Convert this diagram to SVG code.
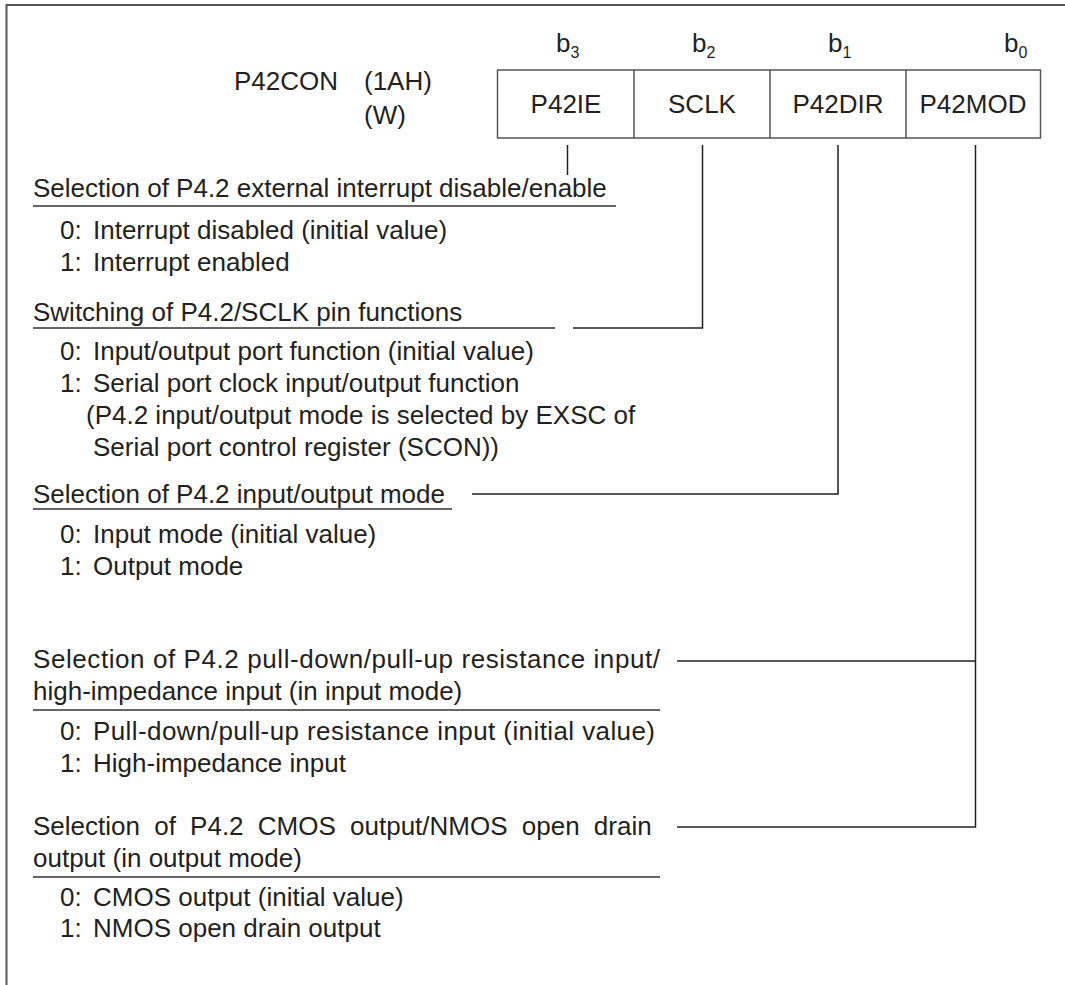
<svg xmlns="http://www.w3.org/2000/svg" width="1065" height="985" viewBox="0 0 1065 985">
<style>
text{font-family:"Liberation Sans",Arial,Helvetica,sans-serif;font-size:26px;fill:#231f20}
.sub{font-size:16px}
.frame{fill:none;stroke:#555;stroke-width:2}
.cell{fill:none;stroke:#555;stroke-width:1.5}
.ul{stroke:#666;stroke-width:2}
.conn{fill:none;stroke:#231f20;stroke-width:1.5}
.c{text-anchor:middle}
</style>
<rect width="1065" height="985" fill="#fff"/>
<path class="frame" d="M1065 5 H6.5 V985"/>

<g id="register">
  <text x="234" y="90">P42CON</text>
  <text x="364" y="90">(1AH)</text>
  <text x="364" y="124">(W)</text>
  <text x="556" y="52">b<tspan class="sub" dy="6">3</tspan></text>
  <text x="692" y="52">b<tspan class="sub" dy="6">2</tspan></text>
  <text x="828" y="52">b<tspan class="sub" dy="6">1</tspan></text>
  <text x="1004" y="52">b<tspan class="sub" dy="6">0</tspan></text>
  <rect class="cell" x="497.5" y="70" width="543" height="68"/>
  <path class="cell" d="M634 70V138M770 70V138M906 70V138"/>
  <text class="c" x="566" y="113">P42IE</text>
  <text class="c" x="702" y="113">SCLK</text>
  <text class="c" x="838" y="113">P42DIR</text>
  <text class="c" x="973" y="113">P42MOD</text>
</g>

<g id="connectors">
  <path class="conn" d="M567.5 145V175"/>
  <path class="conn" d="M702.5 145V328H573"/>
  <path class="conn" d="M838 145V494H472"/>
  <path class="conn" d="M975.5 145V827H677M975.5 661H677"/>
</g>

<g id="p42ie">
  <text x="33" y="197">Selection of P4.2 external interrupt disable/enable</text>
  <line class="ul" x1="33" y1="206" x2="616" y2="206"/>
  <text x="60" y="239">0:<tspan x="93">Interrupt disabled (initial value)</tspan></text>
  <text x="60" y="271">1:<tspan x="93">Interrupt enabled</tspan></text>
</g>

<g id="sclk">
  <text x="33" y="321">Switching of P4.2/SCLK pin functions</text>
  <line class="ul" x1="33" y1="328" x2="555" y2="328"/>
  <text x="60" y="360">0:<tspan x="93">Input/output port function (initial value)</tspan></text>
  <text x="60" y="392">1:<tspan x="93">Serial port clock input/output function</tspan></text>
  <text x="86" y="424">(P4.2 input/output mode is selected by EXSC of</text>
  <text x="93" y="456">Serial port control register (SCON))</text>
</g>

<g id="p42dir">
  <text x="33" y="503">Selection of P4.2 input/output mode</text>
  <line class="ul" x1="33" y1="509" x2="452" y2="509"/>
  <text x="60" y="543">0:<tspan x="93">Input mode (initial value)</tspan></text>
  <text x="60" y="575">1:<tspan x="93">Output mode</tspan></text>
</g>

<g id="p42mod-input">
  <text x="33" y="668" textLength="627" lengthAdjust="spacing">Selection of P4.2 pull-down/pull-up resistance input/</text>
  <text x="33" y="700">high-impedance input (in input mode)</text>
  <line class="ul" x1="33" y1="710" x2="660" y2="710"/>
  <text x="60" y="740">0:<tspan x="93" textLength="562" lengthAdjust="spacing">Pull-down/pull-up resistance input (initial value)</tspan></text>
  <text x="60" y="772">1:<tspan x="93">High-impedance input</tspan></text>
</g>

<g id="p42mod-output">
  <text x="33" y="835" word-spacing="7">Selection of P4.2 CMOS output/NMOS open drain</text>
  <text x="33" y="867">output (in output mode)</text>
  <line class="ul" x1="33" y1="877" x2="660" y2="877"/>
  <text x="60" y="906">0:<tspan x="93">CMOS output (initial value)</tspan></text>
  <text x="60" y="937">1:<tspan x="93">NMOS open drain output</tspan></text>
</g>
</svg>
